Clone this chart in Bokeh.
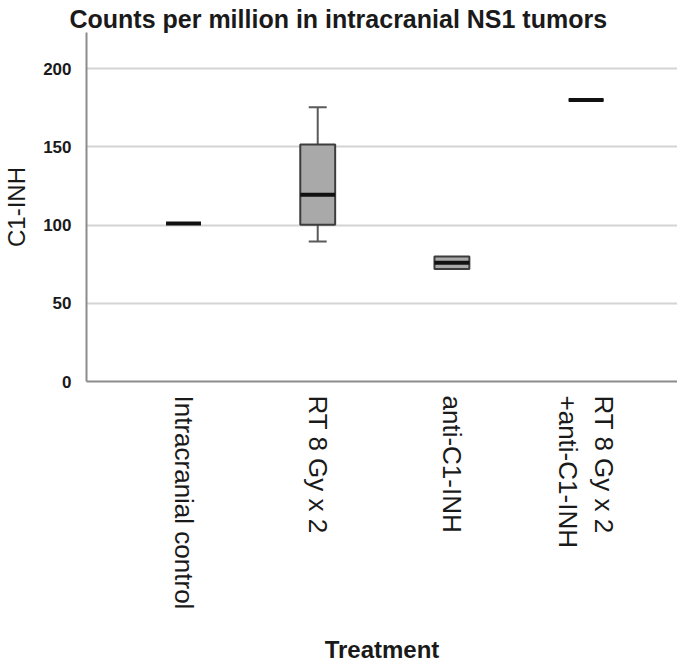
import math
from bokeh.plotting import figure
from bokeh.models import FixedTicker, ColumnDataSource, Range1d
from bokeh.embed import file_html
from bokeh.resources import INLINE

# ---- data ----
categories = ["Intracranial control", "RT 8 Gy x 2", "anti-C1-INH", "RT 8 Gy x 2\n+anti-C1-INH"]
lower_whisker = [101, 89.6, 72, 180]
q1 = [101, 100.3, 72, 180]
median = [101, 119.4, 76, 180]
q3 = [101, 151.5, 80, 180]
upper_whisker = [101, 175.4, 80, 180]
y_ticks = [0, 50, 100, 150, 200]

title_text = "Counts per million in intracranial NS1 tumors"
x_title = "Treatment"
y_title = "C1-INH"

FONT = "Liberation Sans"
xs = [i + 1 for i in range(len(categories))]
X0, X1, Y0, Y1 = 0.277, 4.681, 0, 223.2

p = figure(width=677, height=666, output_backend="svg", toolbar_location=None,
           x_range=Range1d(X0, X1), y_range=Range1d(Y0, Y1),
           min_border_left=78, min_border_right=0, min_border_top=32, min_border_bottom=285)
p.outline_line_color = None
p.background_fill_color = "white"
p.border_fill_color = "white"

# title
p.title.text = title_text
p.title.text_font = FONT
p.title.text_font_size = "25px"
p.title.text_font_style = "bold"
p.title.text_color = "#1a1a1a"
p.title.align = "left"
p.title.offset = -17
p.title.standoff = 0

# grid
p.xgrid.grid_line_color = None
p.ygrid.ticker = FixedTicker(ticks=[t for t in y_ticks if t > 0])
p.ygrid.grid_line_color = "#d4d4d4"
p.ygrid.grid_line_width = 2

# axes
p.yaxis.ticker = FixedTicker(ticks=y_ticks)
p.xaxis.ticker = FixedTicker(ticks=xs)
p.xaxis.major_label_overrides = {x: c for x, c in zip(xs, categories)}
for ax in (p.xaxis, p.yaxis):
    ax.axis_line_color = "#8c8c8c"
    ax.axis_line_width = 2
    ax.major_tick_line_color = None
    ax.minor_tick_line_color = None
    ax.major_label_text_font = FONT
    ax.axis_label_text_font = FONT
    ax.major_label_text_color = "#1a1a1a"
    ax.axis_label_text_color = "#1a1a1a"

p.yaxis.major_label_text_font_size = "17px"
p.yaxis.major_label_text_font_style = "bold"
p.yaxis.major_label_standoff = 9
p.yaxis.axis_label = y_title
p.yaxis.axis_label_text_font_size = "24px"
p.yaxis.axis_label_text_font_style = "normal"
p.yaxis.axis_label_standoff = 10

p.xaxis.major_label_orientation = -math.pi / 2
p.xaxis.major_label_text_font_size = "26px"
p.xaxis.major_label_text_font_style = "normal"
p.xaxis.major_label_standoff = 8
p.xaxis.axis_label = x_title
p.xaxis.axis_label_text_font_size = "24px"
p.xaxis.axis_label_text_font_style = "bold"
p.xaxis.axis_label_standoff = 24

# ---- boxes ----
box_w = 0.26
cap_w = 0.134
src = ColumnDataSource(dict(x=xs, lo=lower_whisker, q1=q1, med=median, q3=q3, hi=upper_whisker,
                            xl=[x - box_w / 2 for x in xs], xr=[x + box_w / 2 for x in xs]))

# whiskers (only where they extend beyond the box)
wx = [x for x, a, b in zip(xs, q3, upper_whisker) if b > a]
w_top = ColumnDataSource(dict(x=wx,
                              y0=[q3[x - 1] for x in wx], y1=[upper_whisker[x - 1] for x in wx],
                              lx0=[x - cap_w / 2 for x in wx], lx1=[x + cap_w / 2 for x in wx]))
bx = [x for x, a, b in zip(xs, q1, lower_whisker) if b < a]
w_bot = ColumnDataSource(dict(x=bx,
                              y0=[q1[x - 1] for x in bx], y1=[lower_whisker[x - 1] for x in bx],
                              lx0=[x - cap_w / 2 for x in bx], lx1=[x + cap_w / 2 for x in bx]))
for s in (w_top, w_bot):
    p.segment(x0="x", y0="y0", x1="x", y1="y1", source=s, line_color="#5a5a5a", line_width=2)
    p.segment(x0="lx0", y0="y1", x1="lx1", y1="y1", source=s, line_color="#5a5a5a", line_width=2)

p.vbar(x="x", width=box_w, bottom="q1", top="q3", source=src,
       fill_color="#a9a9a9", line_color="#3c3c3c", line_width=2)
p.segment(x0="xl", y0="med", x1="xr", y1="med", source=src,
          line_color="#111111", line_width=4)

open("out.html", "w").write(file_html(p, INLINE))
